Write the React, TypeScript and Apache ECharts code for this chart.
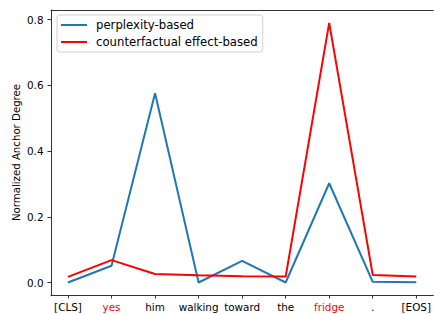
import React, { useEffect, useRef } from "react";
import * as echarts from "echarts";

const categories = ["[CLS]", "yes", "him", "walking", "toward", "the", "fridge", ".", "[EOS]"];
const redLabels = ["yes", "fridge"];
const perplexityBased = [0.0, 0.051, 0.576, 0.0, 0.066, 0.0, 0.302, 0.002, 0.001];
const counterfactualBased = [0.017, 0.068, 0.026, 0.022, 0.019, 0.018, 0.79, 0.023, 0.018];
const yTicks = [0, 0.2, 0.4, 0.6, 0.8];

const FONT = "'DejaVu Sans', sans-serif";

export default function App() {
  const ref = useRef<HTMLDivElement>(null);
  useEffect(() => {
    if (!ref.current) return;
    const chart = echarts.init(ref.current, undefined, { renderer: "svg" });
    const idx = categories.map((_, i) => i);
    const spine = { show: true, onZero: false, lineStyle: { color: "#333", width: 1 } };
    chart.setOption({
      animation: false,
      textStyle: { fontFamily: FONT },
      grid: {
        left: 51,
        top: 10,
        right: -1,
        bottom: 19,
      },
      legend: {
        orient: "vertical",
        left: 57,
        top: 15,
        icon: "rect",
        itemWidth: 26,
        itemHeight: 2,
        itemGap: 5,
        padding: [4, 5, 4, 4],
        borderColor: "#d0d0d0",
        borderWidth: 1,
        borderRadius: 3,
        backgroundColor: "rgba(255,255,255,0.8)",
        textStyle: { fontFamily: FONT, fontSize: 11.7, color: "#000", padding: [0, 0, 0, 4] },
        data: ["perplexity-based", "counterfactual effect-based"],
      },
      xAxis: [
        {
          type: "value",
          min: -0.39,
          max: 8.39,
          position: "bottom",
          axisLine: spine,
          splitLine: { show: false },
          axisTick: {
            show: true,
            customValues: idx,
            length: 3.5,
            lineStyle: { color: "#333", width: 1 },
          },
          axisLabel: {
            customValues: idx,
            fontFamily: FONT,
            fontSize: 10.4,
            margin: 7,
            formatter: (v: number) => categories[Math.round(v)] ?? "",
            color: (v: number) => (redLabels.includes(categories[Math.round(Number(v))]) ? "#ff0000" : "#000"),
          },
        },
        {
          type: "value",
          min: -0.39,
          max: 8.39,
          position: "top",
          axisLine: spine,
          splitLine: { show: false },
          axisTick: { show: false },
          axisLabel: { show: false },
        },
      ],
      yAxis: {
        type: "value",
        min: -0.038,
        max: 0.829,
        position: "left",
        name: "Normalized Anchor Degree",
        nameLocation: "middle",
        nameGap: 30,
        nameMoveOverlap: false,
        nameTextStyle: { fontFamily: FONT, fontSize: 10.2, color: "#000" },
        axisLine: spine,
        splitLine: { show: false },
        axisTick: {
          show: true,
          customValues: yTicks,
          length: 3.5,
          lineStyle: { color: "#333", width: 1 },
        },
        axisLabel: {
          customValues: yTicks,
          fontFamily: FONT,
          fontSize: 10.4,
          margin: 7.5,
          color: "#000",
          formatter: (v: number) => v.toFixed(1),
        },
      },
      series: [
        {
          name: "perplexity-based",
          type: "line",
          data: perplexityBased.map((v, i) => [i, v]),
          showSymbol: false,
          symbol: "none",
          color: "#1f77b4",
          lineStyle: { color: "#1f77b4", width: 2 },
        },
        {
          name: "counterfactual effect-based",
          type: "line",
          data: counterfactualBased.map((v, i) => [i, v]),
          showSymbol: false,
          symbol: "none",
          color: "#ff0000",
          lineStyle: { color: "#ff0000", width: 2 },
        },
      ],
    });
    return () => chart.dispose();
  }, []);
  return (
    <div
      ref={ref}
      style={{ position: "absolute", left: 0, top: 0, width: 434, height: 314, background: "#fff" }}
    />
  );
}
